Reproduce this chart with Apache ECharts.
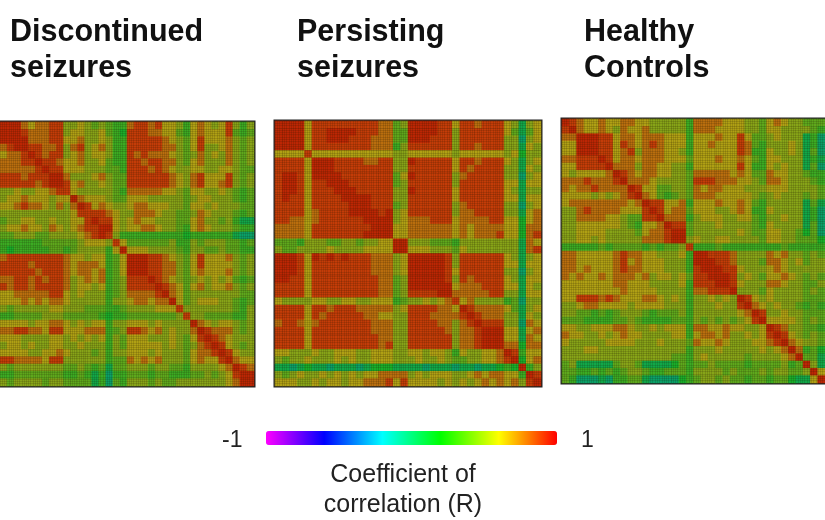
<!DOCTYPE html>
<html><head><meta charset="utf-8">
<style>html,body{margin:0;padding:0;background:#fff;overflow:hidden}#c{width:825px;height:520px}</style>
<script src="https://cdn.jsdelivr.net/npm/echarts@6/dist/echarts.min.js"></script>
</head><body><div id="c"></div>
<script>
// Upper triangles of the correlation matrices, R x 10, read by eye over 36 x 36 regions
const discontinuedRows = [
[9,9,9,7,6,7,7,8,8,5,5,6,5,4,5,4,3,3, 7,8,8,7,8,6,6, 5,3, 6,7,6,5,6,8, 5,3,5],
[9,9,8,7,7,7,8,8,5,6,6,5,5,6,4,3,2, 8,8,8,7,7,6,6, 4,3, 6,7,6,6,6,8, 4,3,4],
[9,9,7,7,7,8,8,6,6,7,5,5,6,5,3,3, 8,8,8,8,8,7,6, 5,4, 6,8,6,6,6,7, 5,4,5],
[9,8,8,7,7,8,5,7,8,5,6,7,5,3,3, 8,8,8,8,8,7,7, 5,4, 6,8,5,5,6,7, 5,4,5],
[9,8,7,8,8,5,6,7,5,6,6,5,3,3, 8,7,8,7,7,7,6, 5,4, 5,7,5,6,5,7, 5,4,5],
[9,8,8,7,6,6,7,5,5,6,4,3,3, 8,8,7,8,8,7,7, 5,4, 6,7,5,5,5,7, 5,4,5],
[9,8,8,6,6,6,5,5,5,4,4,3, 8,8,8,7,8,7,6, 5,5, 6,6,5,5,6,6, 5,4,4],
[9,9,7,5,5,5,6,7,5,4,4, 8,8,8,8,8,8,7, 6,5, 7,8,6,6,6,8, 5,4,5],
[9,8,6,7,5,5,6,5,4,4, 8,8,8,8,8,8,7, 6,5, 7,8,6,6,7,8, 5,4,5],
[8,6,5,5,5,5,5,4,3, 7,7,7,7,7,6,6, 5,4, 6,6,5,5,6,5, 4,3,4],
[9,7,6,6,6,5,4,4, 6,6,6,5,5,5,5, 5,4, 5,6,6,5,5,5, 4,3,4],
[9,8,6,7,6,5,5, 6,7,7,6,6,6,5, 5,4, 6,6,5,6,5,5, 5,4,4],
[8,8,8,7,6,5, 5,7,7,7,6,5,5, 4,4, 5,7,6,5,5,5, 4,3,4],
[9,8,8,6,5, 6,7,6,6,5,5,5, 4,4, 6,7,5,5,4,5, 3,1,1],
[9,9,6,5, 6,6,7,7,6,5,5, 4,3, 6,7,6,5,5,5, 4,3,3],
[8,5,3, 3,3,3,3,3,3,3, 3,2, 3,3,3,3,3,3, 1,0,0],
[8,6, 4,4,4,4,4,4,5, 3,3, 5,4,5,5,5,4, 4,3,4],
[9, 6,6,6,5,5,5,5, 4,3, 5,5,4,4,5,4, 4,3,3],
[9,9,9,8,8,7,6, 5,4, 6,8,6,6,6,7, 5,4,5],
[9,9,8,8,7,7, 5,4, 6,8,6,6,6,6, 5,4,5],
[9,8,8,7,7, 5,4, 6,7,6,6,6,7, 5,4,5],
[9,8,7,6, 5,4, 5,6,5,6,5,6, 4,3,4],
[9,8,7, 6,4, 6,7,5,6,6,7, 5,4,5],
[9,7, 6,4, 5,5,5,5,5,5, 5,4,4],
[9, 6,4, 5,6,6,6,5,5, 4,3,4],
[8,5, 5,5,5,5,5,5, 4,3,5],
[8, 5,5,4,4,4,4, 3,3,5],
[9,7,6,5,6,6, 5,4,5],
[9,8,7,7,7, 5,4,5],
[9,8,7,6, 5,5,5],
[9,8,6, 5,4,5],
[9,8, 6,5,5],
[9, 7,6,6],
[9,8,7],
[9,9],
[9]
];
const persistingRows = [
[9,9,9,9,6,8,8,8,8,8,8,8,8,8,7,7, 4,5, 9,9,9,9,8,8, 6, 8,8,7,8,8,8, 6,5,1,5,6],
[9,9,9,6,8,8,9,9,9,9,8,8,8,7,7, 4,4, 9,9,9,9,8,8, 5, 8,8,8,8,8,8, 6,4,1,4,6],
[9,9,6,8,8,9,9,9,8,8,8,7,7,7, 4,4, 9,9,9,8,8,8, 5, 8,8,8,8,8,8, 5,5,0,5,6],
[9,6,8,8,8,8,8,8,8,8,7,7,7, 3,5, 8,8,8,8,8,8, 5, 8,8,7,8,8,8, 5,5,1,6,5],
[8,6,6,6,6,6,6,6,6,6,6,6, 5,5, 6,6,6,6,6,6, 5, 6,6,6,6,6,6, 5,6,2,5,5],
[9,9,9,8,8,8,8,7,7,8,8, 5,5, 9,8,8,8,8,8, 6, 8,8,7,8,8,8, 6,5,1,5,6],
[9,9,8,8,8,8,8,8,8,8, 5,5, 8,8,8,8,8,8, 6, 8,7,8,8,8,8, 5,5,1,6,5],
[9,9,8,8,8,8,8,8,8, 4,6, 9,8,8,8,8,8, 5, 7,8,8,8,8,8, 5,5,0,5,6],
[9,9,8,8,8,8,8,8, 4,5, 8,8,8,8,8,8, 5, 8,8,8,8,8,8, 6,6,1,6,6],
[9,9,8,8,8,8,8, 5,5, 9,8,8,8,8,8, 6, 8,8,8,8,8,8, 6,5,1,5,5],
[9,9,9,8,8,8, 5,5, 8,8,8,8,8,8, 6, 8,8,8,8,8,8, 6,6,1,6,6],
[9,9,8,8,8, 4,5, 8,8,8,8,8,8, 5, 7,8,8,8,8,8, 5,5,0,5,6],
[9,9,8,9, 5,6, 8,8,8,8,8,8, 5, 7,7,8,8,8,8, 5,5,1,6,7],
[9,9,9, 5,6, 7,7,7,8,8,8, 6, 7,7,7,7,8,8, 6,6,2,6,7],
[9,9, 6,6, 7,7,7,7,7,7, 6, 7,6,7,7,7,7, 6,6,2,7,7],
[9, 6,6, 7,7,7,7,7,7, 6, 7,6,7,7,7,8, 6,6,2,7,8],
[9,9, 5,5,5,4,4,4, 3, 5,5,5,5,5,5, 5,5,1,7,6],
[9, 6,6,6,5,5,5, 4, 6,5,5,5,5,5, 5,5,1,7,8],
[9,9,9,9,9,8, 5, 8,8,8,8,8,8, 6,5,1,5,6],
[9,9,9,9,8, 5, 8,8,8,8,8,8, 6,6,1,6,6],
[9,9,9,8, 6, 8,8,8,8,8,8, 5,5,0,5,6],
[9,9,8, 5, 8,7,8,8,8,8, 6,5,1,6,6],
[9,9, 6, 7,7,7,8,8,8, 6,6,1,6,5],
[9, 7, 7,7,7,7,8,8, 5,5,1,6,6],
[8, 6,7,5,5,5,5, 3,4,0,5,5],
[9,8,7,7,7,7, 6,4,1,5,6],
[9,8,7,7,7, 5,5,1,6,5],
[9,8,8,8, 5,5,0,7,6],
[9,9,9, 6,6,1,6,7],
[9,9, 6,6,1,7,6],
[9, 7,7,2,7,7],
[9,8,3,6,6],
[9,2,6,7],
[9,3,5],
[9,8],
[9]
];
const healthyRows = [
[9,8,7,6,6,7,6,6,7,7,6,6,5,5,5,5,5, 3, 7,7,7,7,6,6, 6,5, 5,4, 6,7,6, 5,5,4,4,4],
[9,7,6,6,7,6,5,7,6,6,7,5,5,5,5,5, 3, 7,7,7,6,6,6, 6,5, 5,4, 6,6,5, 5,5,5,4,3],
[9,9,9,8,8,6,7,7,6,7,7,7,6,6,6, 3, 6,6,6,7,6,6, 8,6, 4,4, 5,6,5, 5,5,1,3,0],
[9,9,8,8,6,8,7,6,7,8,7,6,6,6, 3, 6,6,7,6,6,6, 8,7, 4,3, 5,5,5, 6,5,1,3,0],
[9,8,8,6,7,8,5,7,7,7,6,6,5, 3, 6,6,6,6,6,6, 8,7, 3,3, 6,5,5, 6,5,1,4,0],
[9,8,6,7,7,6,7,7,7,6,6,6, 4, 6,6,6,7,6,6, 7,6, 4,3, 6,6,5, 5,5,1,3,1],
[9,7,7,7,5,7,7,6,6,5,5, 3, 6,6,6,6,6,6, 8,6, 3,3, 6,5,6, 5,5,1,4,0],
[9,8,7,6,7,7,6,6,5,5, 4, 7,7,7,7,7,6, 7,6, 4,4, 7,6,6, 5,5,4,3,3],
[9,7,7,7,6,5,5,5,5, 4, 8,8,8,7,7,7, 6,6, 5,4, 7,7,6, 5,5,5,4,3],
[9,8,6,6,4,4,5,5, 4, 7,6,7,7,6,6, 6,5, 5,5, 6,6,6, 5,5,5,5,4],
[9,7,6,4,3,4,5, 4, 7,7,7,6,6,6, 6,6, 5,4, 5,6,5, 5,5,4,5,4],
[9,8,8,6,6,7, 3, 6,6,6,7,6,6, 7,6, 4,3, 5,5,5, 5,5,1,4,1],
[9,8,6,7,7, 4, 6,6,6,5,5,6, 7,6, 3,3, 6,5,5, 5,5,1,3,0],
[9,7,7,7, 3, 5,6,6,6,5,5, 6,6, 4,3, 5,5,6, 5,5,1,3,0],
[9,8,8, 4, 5,5,5,6,5,5, 5,5, 4,3, 6,5,5, 5,5,1,4,0],
[9,9, 4, 5,5,5,5,5,5, 6,5, 4,4, 6,6,5, 5,4,2,4,0],
[9, 5, 6,5,5,6,6,5, 5,5, 5,4, 6,6,5, 5,4,4,4,2],
[8, 3,3,3,4,3,3, 3,3, 3,3, 3,3,4, 3,3,3,3,3],
[9,9,8,8,8,7, 5,5, 5,5, 7,6,7, 5,5,4,5,4],
[9,9,8,8,7, 5,5, 5,4, 7,7,6, 5,6,4,5,5],
[9,9,8,8, 6,5, 5,5, 6,7,6, 5,5,5,5,5],
[9,9,8, 5,6, 5,4, 6,6,7, 6,5,4,5,4],
[9,8, 6,5, 5,5, 7,7,6, 5,5,4,4,5],
[9, 5,5, 5,4, 6,5,5, 5,5,4,5,4],
[9,8, 6,5, 6,5,5, 5,5,4,4,4],
[9, 7,6, 5,6,5, 5,4,3,4,3],
[9,8, 5,5,6, 5,5,4,4,4],
[9, 6,6,6, 6,5,4,5,4],
[9,8,7, 5,5,4,4,3],
[9,8, 6,5,4,5,4],
[9, 7,6,5,5,4],
[9,7,3,4,2],
[9,4,4,1],
[9,5,1],
[9,6],
[9]
];
const scaleTicks = ['-1', '1'];
const panelTitles = ['Discontinued\nseizures', 'Persisting\nseizures', 'Healthy\nControls'];
const scaleTitle = 'Coefficient of\ncorrelation (R)';

function cells(rows) {
  const out = [];
  rows.forEach((row, r) => row.forEach((v, k) => {
    out.push([r + k, r, v / 10]);
    if (k) out.push([r, r + k, v / 10]);
  }));
  return out;
}
const idx = discontinuedRows.map((_, i) => i);
const grids = [
  {left: -10, top: 122, width: 264, height: 264},
  {left: 275, top: 121, width: 266, height: 265},
  {left: 562, top: 119, width: 265, height: 264}
].map(g => Object.assign(g, {show: true, borderColor: '#222', borderWidth: 3, backgroundColor: '#000'}));
const hidden = {show: false};
const catAxis = (i, extra) => Object.assign({type: 'category', data: idx, gridIndex: i, axisLine: hidden, axisTick: hidden, axisLabel: hidden, splitLine: hidden}, extra);
// fine lattice of the original picture, drawn above the cells
const latticeAxis = i => ({type: 'value', gridIndex: i, min: 0, max: 116, interval: 1, z: 6, axisLine: hidden, axisTick: hidden, axisLabel: hidden,
  splitLine: {show: true, lineStyle: {color: 'rgba(30,20,0,0.14)', width: 1}}});
const sets = [discontinuedRows, persistingRows, healthyRows];
const titleStyle = {fontFamily: 'Liberation Sans', fontSize: 30.5, fontWeight: 'bold', color: '#111', lineHeight: 36};
const plainStyle = {fontFamily: 'Liberation Sans', fontSize: 25, fontWeight: 'normal', color: '#222', lineHeight: 30};
const chart = echarts.init(document.getElementById('c'), null, {renderer: 'canvas'});
chart.setOption({
  animation: false,
  backgroundColor: '#fff',
  title: [
    {text: panelTitles[0], left: 10, top: 15, padding: 0, textStyle: titleStyle},
    {text: panelTitles[1], left: 297, top: 15, padding: 0, textStyle: titleStyle},
    {text: panelTitles[2], left: 584, top: 15, padding: 0, textStyle: titleStyle},
    {text: scaleTicks[0], left: 222, top: 426, padding: 0, textStyle: Object.assign({}, plainStyle, {fontSize: 23})},
    {text: scaleTicks[1], left: 581, top: 426, padding: 0, textStyle: Object.assign({}, plainStyle, {fontSize: 23})},
    {text: scaleTitle, left: 403, textAlign: 'center', top: 460, padding: 0, textStyle: Object.assign({}, plainStyle, {textAlign: 'center'})}
  ],
  grid: grids,
  xAxis: [0, 1, 2].map(i => catAxis(i, {})).concat([0, 1, 2].map(latticeAxis)),
  yAxis: [0, 1, 2].map(i => catAxis(i, {inverse: true})).concat([0, 1, 2].map(latticeAxis)),
  visualMap: [
    {type: 'continuous', show: false, min: -1, max: 1, seriesIndex: [0, 1, 2],
     inRange: {color: ['#a800a8', '#5000a8', '#0000a8', '#0050a8', '#0098a8', '#0aa068', '#18ae2a', '#5ea81c', '#b0a014', '#c43c08', '#b41000']}},
    {type: 'continuous', show: true, min: -1, max: 1, seriesIndex: [3], orient: 'horizontal',
     left: 266, top: 431, itemHeight: 291, itemWidth: 14, padding: 0, text: null, showLabel: false, calculable: false, realtime: false,
     hoverLink: false, inRange: {color: ['#ff00ff', '#0000ff', '#00ffff', '#00ff00', '#ffff00', '#ff0000']}}
  ],
  series: [
    ...sets.map((rows, i) => ({type: 'heatmap', xAxisIndex: i, yAxisIndex: i, z: 1, data: cells(rows), progressive: 0, silent: true, itemStyle: {borderWidth: 0}})),
    {type: 'heatmap', xAxisIndex: 0, yAxisIndex: 0, data: [], silent: true}
  ]
});
</script></body></html>
